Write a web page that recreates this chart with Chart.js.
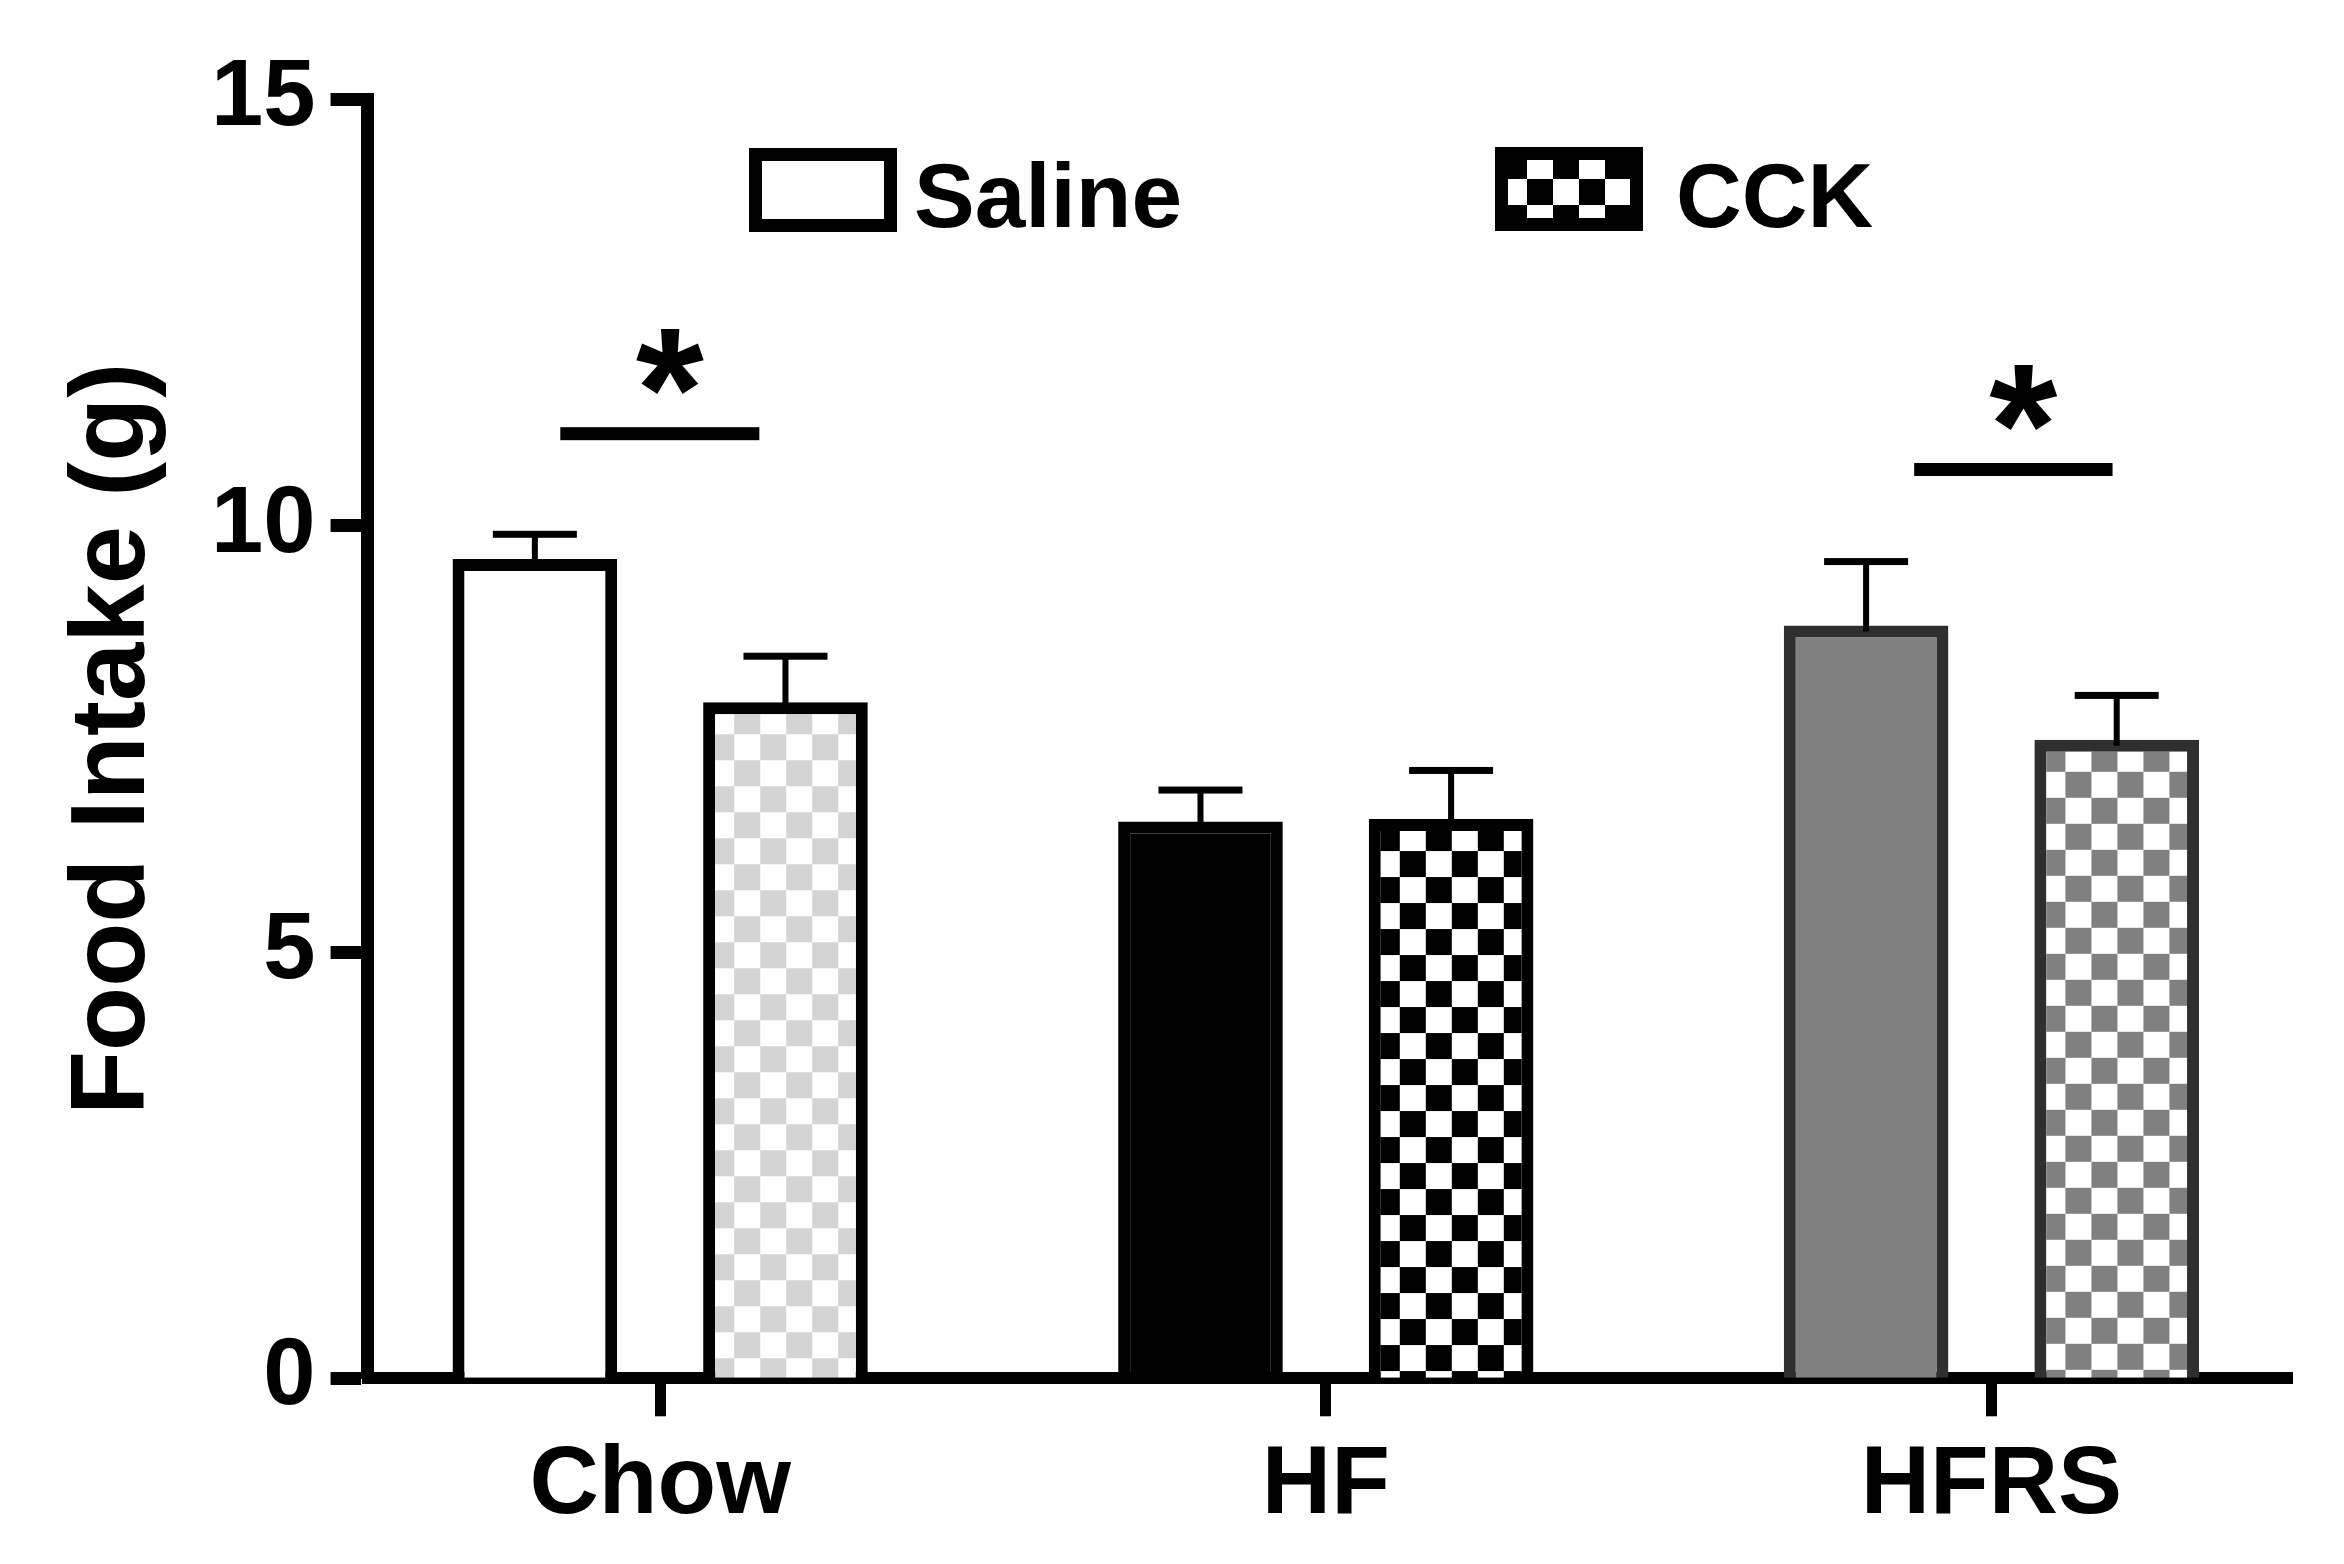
<!DOCTYPE html>
<html>
<head>
<meta charset="utf-8">
<script src="https://cdn.jsdelivr.net/npm/chart.js@4.4.1/dist/chart.umd.min.js"></script>
<style>
  html, body { margin: 0; padding: 0; background: #fff; }
</style>
</head>
<body>
<canvas id="grafico" width="2344" height="1564"></canvas>
<script>
// dados
const categories = ['Chow', 'HF', 'HFRS'];
const seriesNames = ['Saline', 'CCK'];
const salineMeans = [9.61, 6.53, 8.83];
const salineErrors = [0.29, 0.37, 0.75];
const cckMeans = [7.93, 6.56, 7.49];
const cckErrors = [0.54, 0.57, 0.52];
const yTicks = [0, 5, 10, 15];

// linhas de significancia (posicao x em unidades de categoria)
const sigStart = [-0.15, 1.884];
const sigEnd = [0.149, 2.182];
const sigLevel = [11.08, 10.66];
const sigLabels = ['*', '*'];

const FONTE = '"Liberation Sans", Arial, Helvetica, sans-serif';
Chart.defaults.font.family = FONTE;
Chart.defaults.font.weight = 'bold';
Chart.defaults.color = '#000';

const canvas = document.getElementById('grafico');
const ctx = canvas.getContext('2d');

// xadrez
const TAM = 26;
function criarPadrao(corA, corB) {
    const c = document.createElement('canvas');
    c.width = c.height = TAM * 2;
    const g = c.getContext('2d');
    g.fillStyle = corB;
    g.fillRect(0, 0, TAM * 2, TAM * 2);
    g.fillStyle = corA;
    g.fillRect(0, 0, TAM, TAM);
    g.fillRect(TAM, TAM, TAM, TAM);
    return ctx.createPattern(c, 'repeat');
}

const coresCCK = [['#ffffff', '#d4d4d4'], ['#000000', '#ffffff'], ['#808080', '#ffffff']];
const padroesCCK = coresCCK.map(c => criarPadrao(c[0], c[1]));
const padraoLegenda = criarPadrao('#000000', '#ffffff');

const bordas = ['#000000', '#000000', '#2f2f2f'];

// alinha o xadrez com cada barra
const alinharPadroes = {
    id: 'alinharPadroes',
    beforeDatasetsDraw(chart) {
        chart.getDatasetMeta(1).data.forEach((bar, i) => {
            const esq = bar.x - bar.width / 2;
            padroesCCK[i].setTransform(new DOMMatrix().translate(esq + 5, bar.y + 6));
        });
    }
};

// barras de erro (so para cima)
const barrasErro = {
    id: 'barrasErro',
    afterDatasetsDraw(chart) {
        const c = chart.ctx;
        const y = chart.scales.y;
        c.save();
        c.fillStyle = '#000';
        chart.data.datasets.forEach((ds, d) => {
            chart.getDatasetMeta(d).data.forEach((bar, i) => {
                const topo = y.getPixelForValue(ds.data[i].y + ds.erros[i]);
                c.fillRect(bar.x - 3, topo, 6, bar.y - topo + 6);
                c.fillRect(bar.x - 42, topo - 3.5, 84, 7);
            });
        });
        c.restore();
    }
};

// linhas com asterisco + legenda
const anotacoes = {
    id: 'anotacoes',
    afterDraw(chart) {
        const c = chart.ctx;
        const { x, y } = chart.scales;
        c.save();
        c.fillStyle = '#000';
        sigLevel.forEach((nivel, i) => {
            const x1 = x.getPixelForValue(sigStart[i]);
            const x2 = x.getPixelForValue(sigEnd[i]);
            const yy = y.getPixelForValue(nivel);
            c.fillRect(x1, yy - 6.5, x2 - x1, 13);
            c.font = 'bold 175px ' + FONTE;
            c.textAlign = 'center';
            c.textBaseline = 'middle';
            c.fillText(sigLabels[i], (x1 + x2) / 2 + 10, yy - 33);
        });

        const itens = [
            { bx: 749, by: 148, tx: 914, fundo: '#ffffff' },
            { bx: 1495, by: 147, tx: 1676, fundo: padraoLegenda }
        ];
        itens.forEach((it, i) => {
            c.fillStyle = '#000';
            c.fillRect(it.bx, it.by, 148, 84);
            if (it.fundo !== '#ffffff') {
                it.fundo.setTransform(new DOMMatrix().translate(it.bx + 6, it.by + 6));
            }
            c.fillStyle = it.fundo;
            c.fillRect(it.bx + 13, it.by + 13, 148 - 26, 84 - 26);
            c.fillStyle = '#000';
            c.font = 'bold 91px ' + FONTE;
            c.textAlign = 'left';
            c.textBaseline = 'alphabetic';
            c.fillText(seriesNames[i], it.tx, 227);
        });
        c.restore();
    }
};

new Chart(ctx, {
    type: 'bar',
    data: {
        datasets: [
            {
                label: seriesNames[0],
                data: salineMeans.map((v, i) => ({ x: i, y: v })),
                erros: salineErrors,
                backgroundColor: ['#ffffff', '#000000', '#808080'],
                borderColor: bordas,
                borderWidth: 12,
                categoryPercentage: 0.753,
                barPercentage: 0.657
            },
            {
                label: seriesNames[1],
                data: cckMeans.map((v, i) => ({ x: i, y: v })),
                erros: cckErrors,
                backgroundColor: padroesCCK,
                borderColor: bordas,
                borderWidth: 12,
                categoryPercentage: 0.753,
                barPercentage: 0.657
            }
        ]
    },
    options: {
        responsive: false,
        animation: false,
        devicePixelRatio: 1,
        layout: { padding: { top: 99.5, right: 52, bottom: 6.5, left: 0 } },
        plugins: {
            legend: { display: false },
            tooltip: { enabled: false }
        },
        scales: {
            x: {
                type: 'linear',
                min: -0.4396,
                max: 2.4516,
                offset: false,
                z: 1,
                afterBuildTicks: s => { s.ticks = categories.map((c, i) => ({ value: i })); },
                ticks: {
                    callback: v => categories[v],
                    font: { size: 96, weight: 'bold' },
                    color: '#000',
                    padding: 13,
                    maxRotation: 0,
                    autoSkip: false
                },
                grid: { offset: false, drawOnChartArea: false, drawTicks: true, tickLength: 38, tickWidth: 11, tickColor: '#000' },
                border: { display: true, color: '#000', width: 12 }
            },
            y: {
                min: 0,
                max: 15,
                z: 1,
                afterBuildTicks: s => { s.ticks = yTicks.map(v => ({ value: v })); },
                ticks: {
                    font: { size: 94, weight: 'bold' },
                    color: '#000',
                    padding: 15
                },
                grid: { drawOnChartArea: false, drawTicks: true, tickLength: 37, tickWidth: 13, tickColor: '#000' },
                border: { display: true, color: '#000', width: 13 },
                title: {
                    display: true,
                    text: 'Food Intake (g)',
                    font: { size: 105, weight: 'bold' },
                    color: '#000',
                    padding: { top: 52, bottom: 18 }
                }
            }
        }
    },
    plugins: [alinharPadroes, barrasErro, anotacoes]
});
</script>
</body>
</html>
